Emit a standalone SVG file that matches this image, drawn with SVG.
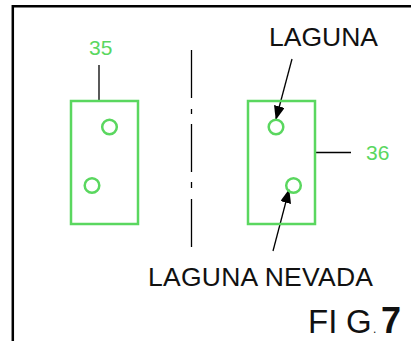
<svg xmlns="http://www.w3.org/2000/svg" width="411" height="341" viewBox="0 0 411 341">
<style>
text{font-family:"Liberation Sans",Arial,sans-serif}
.g{fill:none;stroke:#5ad75f;stroke-width:2.500}
.gt{fill:#5ad75f;font-size:21px}
.bt{fill:#111;font-size:26.500px}
.l{fill:none;stroke:#000;stroke-width:1.300}
.f{fill:#111;font-size:33px}
</style>
<defs><marker id="a" markerUnits="userSpaceOnUse" markerWidth="14" markerHeight="18" refX="13" refY="5.500" orient="auto"><path d="M0 0L14 5.500L0 11Z" fill="#000"/></marker></defs>
<rect width="411" height="341" fill="#fff"/>
<path d="M12.800 341V6.200H411" fill="none" stroke="#000" stroke-width="2.500"/>
<g id="connectors">
<path class="l" d="M99 65V101"/>
<path class="l" d="M191.500 50V98M191.500 109V114M191.500 124V172M191.500 182V188M191.500 199V247"/>
<path class="l" d="M314 152.500H351"/>
<path class="l" d="M292 59L276 119" marker-end="url(#a)"/>
<path class="l" d="M273 251L289 190" marker-end="url(#a)"/>
</g>
<g id="node-35">
<rect class="g" x="71" y="101" width="67" height="123"/>
<circle class="g" cx="109.500" cy="127" r="7.300"/>
<circle class="g" cx="92" cy="185.500" r="7.300"/>
<text class="gt" x="89" y="55">35</text>
</g>
<g id="node-36">
<rect class="g" x="248" y="101" width="67" height="123"/>
<circle class="g" cx="276" cy="127" r="7.300"/>
<circle class="g" cx="293.500" cy="185.500" r="7.300"/>
<text class="gt" x="366" y="160">36</text>
</g>
<g id="labels">
<text class="bt" x="269" y="46">LAGUNA</text>
<text class="bt" x="148" y="286" textLength="225">LAGUNA NEVADA</text>
<text class="f" x="308" y="333">FI</text>
<text class="f" x="346" y="333">G</text>
<text x="373" y="333" font-size="12" fill="#111">.</text>
<text x="381" y="333" font-size="36" font-weight="bold" fill="#111">7</text>
</g>
</svg>
